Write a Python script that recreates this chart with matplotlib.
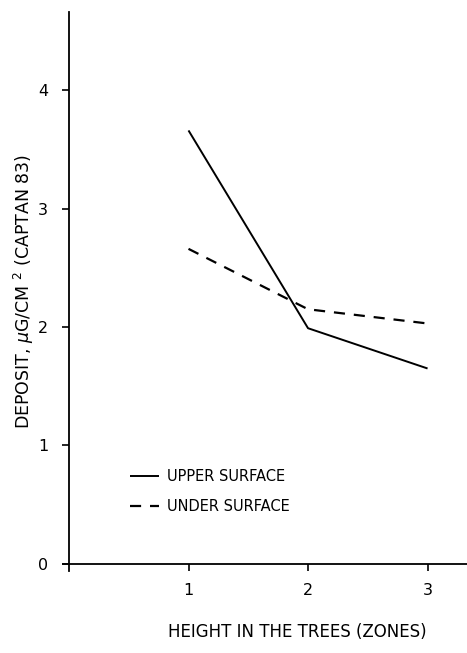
import matplotlib.pyplot as plt

# data
zones = [1, 2, 3]
upper_surface = [3.66, 1.99, 1.65]
under_surface = [2.66, 2.15, 2.03]
y_ticks = [0, 1, 2, 3, 4]
x_ticks = [1, 2, 3]

plt.rcParams['font.family'] = ['DejaVu Sans']

fig = plt.figure(figsize=(4.67, 6.53), dpi=100)
ax = fig.add_axes([63 / 467, 1 - 571 / 653, (467 - 63) / 467, (571 - 12) / 653])

l1, = ax.plot(zones, upper_surface, color='black', lw=1.4, solid_capstyle='butt')
l2, = ax.plot(zones, under_surface, color='black', lw=1.6, dashes=(5, 4))

ax.set_xlim(-0.05, 3.33)
ax.set_ylim(-0.06, 4.66)

# axes cross at the origin
ax.spines['left'].set_position(('data', 0))
ax.spines['bottom'].set_position(('data', 0))
ax.spines['right'].set_visible(False)
ax.spines['top'].set_visible(False)
ax.spines['left'].set_linewidth(1.3)
ax.spines['bottom'].set_linewidth(1.3)

ax.set_xticks(x_ticks)
ax.set_yticks(y_ticks)
ax.tick_params(direction='out', length=5, width=1.2, labelsize=11.5)
ax.tick_params(axis='x', pad=9)
ax.tick_params(axis='y', pad=10)

ax.set_ylabel(r'DEPOSIT, $\mu$G/CM $^{2}$ (CAPTAN 83)', fontsize=12.5)
ax.yaxis.set_label_coords(-0.066, 0.5)
fig.text(297 / 467, 1 - 632 / 653, 'HEIGHT IN THE TREES (ZONES)', fontsize=12,
         ha='center', va='center')

ax.legend([l1, l2], ['UPPER SURFACE', 'UNDER SURFACE'], loc='upper left',
          bbox_to_anchor=(117 / 467, 1 - 456 / 653), bbox_transform=fig.transFigure,
          frameon=False, fontsize=10.5, handlelength=2.0, handletextpad=0.5,
          labelspacing=1.05)

fig.savefig('out.png', dpi=100)
